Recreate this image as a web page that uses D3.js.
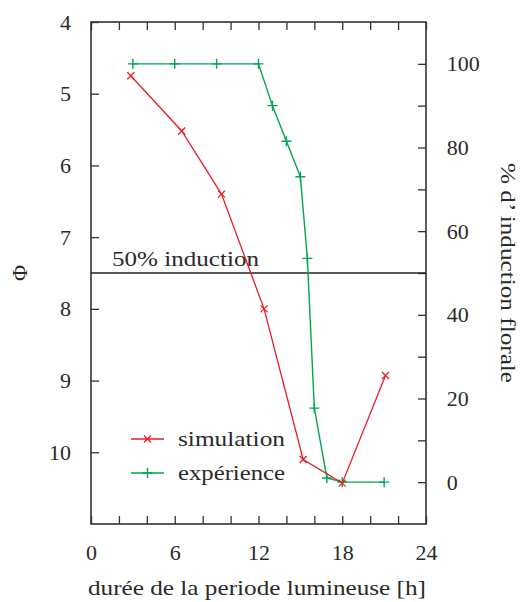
<!DOCTYPE html>
<html>
<head>
<meta charset="utf-8">
<script src="https://cdn.jsdelivr.net/npm/d3@7"></script>
<style>
  html, body { margin: 0; padding: 0; background: #fff; }
  svg text { font-family: 'Liberation Serif', serif !important; fill: #2a2a2a; }
</style>
</head>
<body>
<svg id="chart" width="520" height="602"></svg>
<script>
// Photoperiod length [h] and simulated Φ
const simHours = [2.85, 6.5, 9.35, 12.4, 15.2, 18, 21.1];
const simPhi   = [4.75, 5.52, 6.40, 8.0, 10.1, 10.43, 8.93];

// Photoperiod length [h] and observed % floral induction
const expHours = [3, 6, 9, 12, 13, 14, 15, 15.5, 16, 16.9, 18, 21];
const expPct   = [100, 100, 100, 100, 90, 81.5, 73, 53.5, 17.7, 1, 0, 0];

// Axis ticks and labels
const xTicks     = d3.range(0, 25, 2);
const xLabels    = [0, 6, 12, 18, 24];
const phiTicks   = [4, 5, 6, 7, 8, 9, 10];
const pctTicks   = d3.range(0, 101, 10);
const pctLabels  = [0, 20, 40, 60, 80, 100];
const threshold  = 50;

const seriesNames = ["simulation", "expérience"];
const colors = { sim: "#ec1c24", exp: "#00a651" };

const svg = d3.select("#chart");
const L = 91, R = 426, T = 22, B = 524;
const FS = 22;

const x  = d3.scaleLinear().domain([0, 24]).range([L, R]);
const yL = d3.scaleLinear().domain([4, 11]).range([T, B]);
const yR = d3.scaleLinear().domain([-10, 110]).range([B, T]);

function styleAxis(g) {
  g.attr("font-family", null).attr("font-size", null);
  g.select(".domain").remove();
  g.selectAll(".tick line").attr("stroke", "#333").attr("stroke-width", 1.3);
  g.selectAll(".tick text").attr("font-size", FS).attr("fill", "#2a2a2a");
}

// bottom axis
svg.append("g").attr("transform", `translate(0,${B})`)
  .call(d3.axisBottom(x).tickValues(xTicks).tickSizeInner(-8).tickSizeOuter(0)
    .tickPadding(20.5)
    .tickFormat(d => xLabels.includes(d) ? d3.format("d")(d) : ""))
  .call(styleAxis);

// top axis (ticks only)
svg.append("g").attr("transform", `translate(0,${T})`)
  .call(d3.axisTop(x).tickValues(xTicks).tickSizeInner(-8).tickSizeOuter(0)
    .tickFormat(""))
  .call(styleAxis);

// left axis: Φ
svg.append("g").attr("transform", `translate(${L},0)`)
  .call(d3.axisLeft(yL).tickValues(phiTicks).tickSizeInner(-8).tickSizeOuter(0)
    .tickPadding(20).tickFormat(d3.format("d")))
  .call(styleAxis);

// right axis: % induction
svg.append("g").attr("transform", `translate(${R},0)`)
  .call(d3.axisRight(yR).tickValues(pctTicks).tickSizeInner(-8).tickSizeOuter(0)
    .tickPadding(20.7)
    .tickFormat(d => pctLabels.includes(d) ? d3.format("d")(d) : ""))
  .call(styleAxis);

// frame
svg.append("rect").attr("x", L).attr("y", T).attr("width", R - L).attr("height", B - T)
  .attr("fill", "none").attr("stroke", "#333").attr("stroke-width", 1.6);

// 50% induction threshold
svg.append("line")
  .attr("x1", L).attr("x2", R)
  .attr("y1", yR(threshold)).attr("y2", yR(threshold))
  .attr("stroke", "#222").attr("stroke-width", 1.5);
svg.append("text").attr("x", 112).attr("y", yR(threshold) - 7)
  .attr("font-size", FS).attr("textLength", 147).attr("lengthAdjust", "spacingAndGlyphs")
  .text(`${threshold}% induction`);

const sim = simHours.map((h, i) => ({ x: h, y: simPhi[i] }));
const exp = expHours.map((h, i) => ({ x: h, y: expPct[i] }));

const line = (ys) => d3.line().x(d => x(d.x)).y(d => ys(d.y));

svg.append("path").datum(exp).attr("d", line(yR))
  .attr("fill", "none").attr("stroke", colors.exp).attr("stroke-width", 1.4);
svg.append("path").datum(sim).attr("d", line(yL))
  .attr("fill", "none").attr("stroke", colors.sim).attr("stroke-width", 1.3);

function cross(g, cx, cy, s, color) {
  g.append("path").attr("d", `M${cx - s},${cy - s}L${cx + s},${cy + s}M${cx - s},${cy + s}L${cx + s},${cy - s}`)
    .attr("stroke", color).attr("stroke-width", 1.3).attr("fill", "none");
}
function plus(g, cx, cy, s, color) {
  g.append("path").attr("d", `M${cx - s},${cy}L${cx + s},${cy}M${cx},${cy - s}L${cx},${cy + s}`)
    .attr("stroke", color).attr("stroke-width", 1.4).attr("fill", "none");
}

const marks = svg.append("g");
exp.forEach(d => plus(marks, x(d.x), yR(d.y), 5, colors.exp));
sim.forEach(d => cross(marks, x(d.x), yL(d.y), 3.5, colors.sim));

// legend
const leg = svg.append("g");
const legRows = [
  { name: seriesNames[0], color: colors.sim, y: 439, mark: cross, s: 3.5, tl: 107 },
  { name: seriesNames[1], color: colors.exp, y: 473, mark: plus, s: 5, tl: 107 }
];
legRows.forEach(r => {
  leg.append("line").attr("x1", 131).attr("x2", 164).attr("y1", r.y).attr("y2", r.y)
    .attr("stroke", r.color).attr("stroke-width", 1.4);
  r.mark(leg, 147.5, r.y, r.s, r.color);
  leg.append("text").attr("x", 178).attr("y", r.y + 6.5).attr("font-size", FS)
    .attr("textLength", r.tl).attr("lengthAdjust", "spacingAndGlyphs")
    .text(r.name);
});

// axis titles
svg.append("text").attr("x", 257).attr("y", 595).attr("text-anchor", "middle")
  .attr("font-size", FS).attr("textLength", 338).attr("lengthAdjust", "spacingAndGlyphs")
  .text("durée de la periode lumineuse [h]");

svg.append("text").attr("transform", "translate(27,273) rotate(-90)")
  .attr("text-anchor", "middle").attr("font-size", FS).text("Φ");

svg.append("text").attr("transform", "translate(501,273) rotate(90)")
  .attr("text-anchor", "middle").attr("font-size", FS)
  .attr("textLength", 220).attr("lengthAdjust", "spacingAndGlyphs")
  .text("% d’ induction florale");
</script>
</body>
</html>
